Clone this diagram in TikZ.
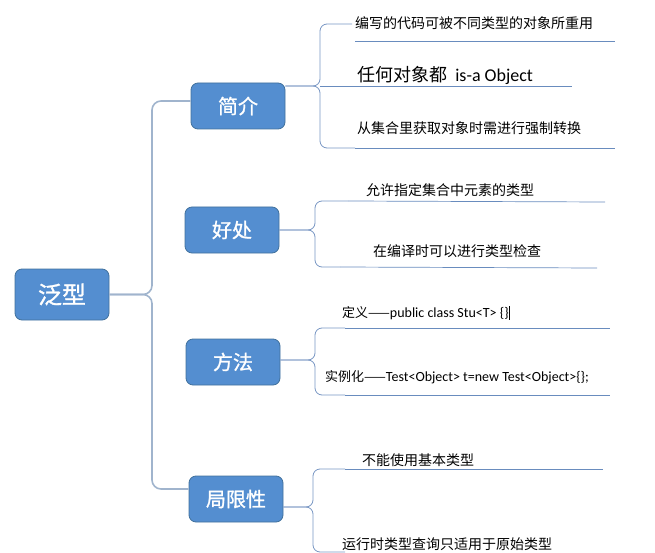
\documentclass[tikz,border=0pt]{standalone}
\usepackage{xcolor}
\usepackage{fontspec}
\setmainfont{Carlito}
\newfontfamily\cjk{Noto Sans CJK SC}
\newfontfamily\cjkb[FakeBold=1.2]{Noto Sans CJK SC}
\usepackage{tikz}
\definecolor{topicfill}{RGB}{84,142,208}
\definecolor{topicborder}{RGB}{65,113,156}
\definecolor{trunkgray}{RGB}{160,180,205}
\definecolor{bracegray}{RGB}{120,150,195}
\definecolor{rulegray}{RGB}{105,140,190}

\tikzset{
  topic/.style={draw=topicborder, fill=topicfill, line width=0.8pt, rounded corners=7pt,
                minimum width=94pt, minimum height=46pt, text=white,
                font=\cjkb\fontsize{20}{24}\selectfont},
  item/.style={anchor=west, inner sep=0pt, font=\cjk\fontsize{14}{16}\selectfont},
  trunk/.style={draw=trunkgray, line width=1.6pt, rounded corners=9pt},
  brace/.style={draw=bracegray, line width=0.8pt, rounded corners=7pt},
  underline/.style={draw=rulegray, line width=0.7pt}
}

\begin{document}
\begin{tikzpicture}[x=1pt, y=-1pt]
  \useasboundingbox (0,0) rectangle (655,553);

  % topics
  \node[topic, minimum height=51pt, font=\cjkb\fontsize{24}{28}\selectfont] (fanxing) at (62,294.5) {泛型};
  \node[topic] (jianjie) at (238,106) {简介};
  \node[topic] (haochu)  at (232,230) {好处};
  \node[topic] (fangfa)  at (233,362) {方法};
  \node[topic] (juxian)  at (236,499) {局限性};

  % main brace
  \coordinate (mx) at (152,0);
  \draw[trunk] ([yshift=5pt]jianjie.west) -| (fanxing.east -| mx) -- (fanxing.east);
  \draw[trunk] (fanxing.east) -- (fanxing.east -| mx) |- ([yshift=10pt]juxian.west);

  % 简介
  \node[item] (jj1) at (355,23) {编写的代码可被不同类型的对象所重用};
  \node[item, font=\fontsize{18}{20}\selectfont] (jj2) at (357,75) {{\cjk 任何对象都}\ \ is-a Object};
  \node[item] (jj3) at (357,128) {从集合里获取对象时需进行强制转换};
  \coordinate (jjx) at (320,0);
  \coordinate (jjtop) at (352,24);
  \coordinate (jjbot) at (355,148);
  \draw[brace] (jjtop) -| ([yshift=20pt]jianjie.east -| jjx) -- ([yshift=20pt]jianjie.east);
  \draw[brace] ([yshift=20pt]jianjie.east) -- ([yshift=20pt]jianjie.east -| jjx) |- (jjbot);
  \draw[underline] (355,41) -- (615,41);
  \draw[underline] ([yshift=20pt]jianjie.east -| jjx) -- (572,86);
  \draw[underline] (jjbot) -- (615,148);

  % 好处
  \node[item] (hc1) at (366,190) {允许指定集合中元素的类型};
  \node[item] (hc2) at (373,251) {在编译时可以进行类型检查};
  \coordinate (hcx) at (315,0);
  \coordinate (hctop) at (348,201);
  \coordinate (hcbot) at (340,267);
  \draw[brace] (hctop) -| (haochu.east -| hcx) -- (haochu.east);
  \draw[brace] (haochu.east) -- (haochu.east -| hcx) |- (hcbot);
  \draw[underline] (hctop) -- (605,202);
  \draw[underline] (hcbot) -- (597,268);

  % 方法
  \node[item, font=\fontsize{14}{16}\selectfont] (ff1) at (342,313)
    {{\cjk\fontsize{13}{16}\selectfont 定义——}public class Stu<T> \{\}\rule[-2pt]{1.6pt}{14pt}};
  \node[item, font=\fontsize{14}{16}\selectfont] (ff2) at (325,377)
    {{\cjk\fontsize{13}{16}\selectfont 实例化——}Test<Object> t=new Test<Object>\{\};};
  \coordinate (ffx) at (315,0);
  \coordinate (fftop) at (345,328);
  \coordinate (ffbot) at (345,395);
  \draw[brace] (fftop) -| ([yshift=2pt]fangfa.east -| ffx) -- ([yshift=2pt]fangfa.east);
  \draw[brace] ([yshift=2pt]fangfa.east) -- ([yshift=2pt]fangfa.east -| ffx) |- (ffbot);
  \draw[underline] (fftop) -- (610,328);
  \draw[underline] (ffbot) -- (610,395);

  % 局限性
  \node[item] (jx1) at (362,460) {不能使用基本类型};
  \node[item] (jx2) at (342,544) {运行时类型查询只适用于原始类型};
  \coordinate (jxx) at (313,0);
  \coordinate (jxtop) at (345,469);
  \coordinate (jxbot) at (345,552);
  \draw[brace] (jxtop) -| ([yshift=-8pt]juxian.east -| jxx) -- ([yshift=-8pt]juxian.east);
  \draw[brace] ([yshift=-8pt]juxian.east) -- ([yshift=-8pt]juxian.east -| jxx) |- (jxbot);
  \draw[underline] (jxtop) -- (603,469);
\end{tikzpicture}
\end{document}
